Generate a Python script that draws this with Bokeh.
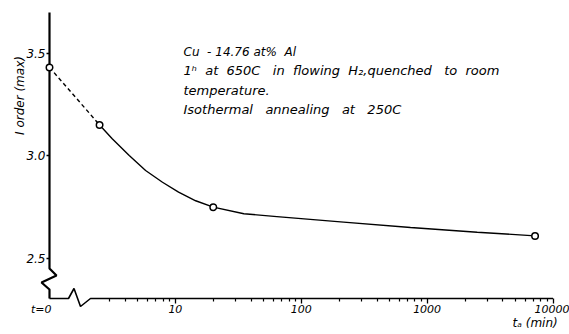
import math
from bokeh.plotting import figure
from bokeh.models import Range1d, FixedTicker, Label, PrintfTickFormatter, CustomJSTickFormatter
from bokeh.embed import file_html
from bokeh.resources import INLINE

# ---- data ----
t_min = [0, 2.5, 20, 7200]              # annealing time (min); 0 = as quenched
order_max = [3.43, 3.15, 2.75, 2.61]    # I order (max)
# points along the drawn smooth curve
curve_t = [2.5, 3.15, 4.3, 5.8, 7.9, 10.6, 14.5, 20, 35, 64, 217, 738, 2500, 7200]
curve_y = [3.15, 3.083, 3.001, 2.928, 2.871, 2.823, 2.781, 2.75, 2.718, 2.704, 2.677, 2.651, 2.628, 2.61]
y_ticks = [2.5, 3.0, 3.5]
x_major = [10, 100, 1000, 10000]
x_label_t0 = "t=0"
x_title = "t\u2090 (min)"
y_title = "I order (max)"
NB = "\u00a0"
note_lines = [
    "Cu" + NB * 2 + "-" + NB + "14.76" + NB + "at%" + NB * 2 + "Al",
    "1\u02b0" + NB * 2 + "at" + NB * 2 + "650C" + NB * 3 + "in" + NB * 2 + "flowing" + NB * 2
    + "H\u2082,quenched" + NB * 3 + "to" + NB * 2 + "room",
    "temperature.",
    "Isothermal" + NB * 3 + "annealing" + NB * 3 + "at" + NB * 3 + "250C",
]
note_sizes = ["12px", "13px", "13px", "13px"]

FONT = "DejaVu Sans"
W, H = 569, 334

# ---- pixel <-> data mapping of the frame (frame = whole canvas) ----
X0_PX, DEC_PX = 49.0, 125.875       # pixel of log10 = 0 and pixels per decade
Y35_PX, UNIT_PX = 52.5, 205.5       # pixel of 3.5 and pixels per unit


def px2x(px):
    return (px - X0_PX) / DEC_PX


def py2y(py):
    return 3.5 - (py - Y35_PX) / UNIT_PX


def tpos(t):
    return 0.0 if t == 0 else math.log10(t)


p = figure(width=W, height=H, min_border=0, title=None,
           x_range=Range1d(px2x(0), px2x(W)),
           y_range=Range1d(py2y(H), py2y(0)),
           output_backend="svg", toolbar_location=None,
           background_fill_color="white", border_fill_color="white")
p.outline_line_color = None
p.grid.visible = False

axis_x_y = py2y(298)

# ---- axes (ticks & labels from bokeh) ----
decades = [round(math.log10(v)) for v in x_major]
minor = [math.log10(k) for k in range(3, 10)]
for d in range(1, decades[-1]):
    minor += [d + math.log10(k) for k in range(2, 10)]
p.xaxis.ticker = FixedTicker(ticks=decades, minor_ticks=minor)
p.xaxis.formatter = CustomJSTickFormatter(code="return String(Math.round(Math.pow(10, tick)))")
p.xaxis.fixed_location = axis_x_y
p.xaxis.axis_line_color = None
p.xaxis.major_tick_in = 0
p.xaxis.major_tick_out = 5
p.xaxis.minor_tick_in = 0
p.xaxis.minor_tick_out = 3
p.xaxis.major_tick_line_width = 1.3
p.xaxis.minor_tick_line_width = 1.2
p.xaxis.major_label_standoff = 1
p.xaxis.major_label_text_font_size = "11px"

p.yaxis.ticker = FixedTicker(ticks=y_ticks, minor_ticks=[])
p.yaxis.formatter = PrintfTickFormatter(format="%.1f")
p.yaxis.fixed_location = 0.0
p.yaxis.axis_line_color = None
p.yaxis.major_tick_in = 0
p.yaxis.major_tick_out = 3
p.yaxis.major_tick_line_width = 1.3
p.yaxis.major_label_standoff = 1
p.yaxis.major_label_text_font_size = "12px"

for ax in (p.xaxis, p.yaxis):
    ax.major_label_text_font = FONT
    ax.major_label_text_font_style = "italic"
    ax.major_label_text_color = "black"
    ax.major_tick_line_color = "black"
    ax.minor_tick_line_color = "black"

# ---- broken axis lines (decoration) ----
yax_px = [(49, 12), (49, 268), (56, 275), (41, 282), (49, 289), (49, 298)]
xax_px = [(49, 298), (68, 298), (73.5, 288), (80, 306), (90, 298), (X0_PX + DEC_PX * decades[-1], 298)]
p.line([px2x(a) for a, b in yax_px], [py2y(b) for a, b in yax_px], line_color="black", line_width=2.2)
p.line([px2x(a) for a, b in xax_px], [py2y(b) for a, b in xax_px], line_color="black", line_width=1.6)

# ---- data ----
xs = [tpos(t) for t in t_min]
p.line(xs[:2], order_max[:2], line_color="black", line_width=1.4, line_dash="4 3")
p.line([tpos(t) for t in curve_t], curve_y, line_color="black", line_width=1.4)
p.scatter(xs, order_max, marker="circle", size=6.5, fill_color="white",
          line_color="black", line_width=1.5)

# ---- texts ----
def lab(text, px, py, size="12px", align="left", baseline="alphabetic", angle=0.0):
    p.add_layout(Label(x=px2x(px), y=py2y(py), text=text, text_font=FONT,
                       text_font_style="italic", text_font_size=size,
                       text_align=align, text_baseline=baseline, angle=angle,
                       text_color="black"))

lab(x_label_t0, 51, 309, size="11px", align="right", baseline="middle")
lab(x_title, 512, 322, size="12px")
lab(y_title, 19, 95, size="12px", align="center", baseline="middle", angle=math.pi / 2)
for line, size, base in zip(note_lines, note_sizes, [51.5, 70, 90, 109]):
    lab(line, 183, base, size=size)

open("out.html", "w").write(file_html(p, INLINE))
